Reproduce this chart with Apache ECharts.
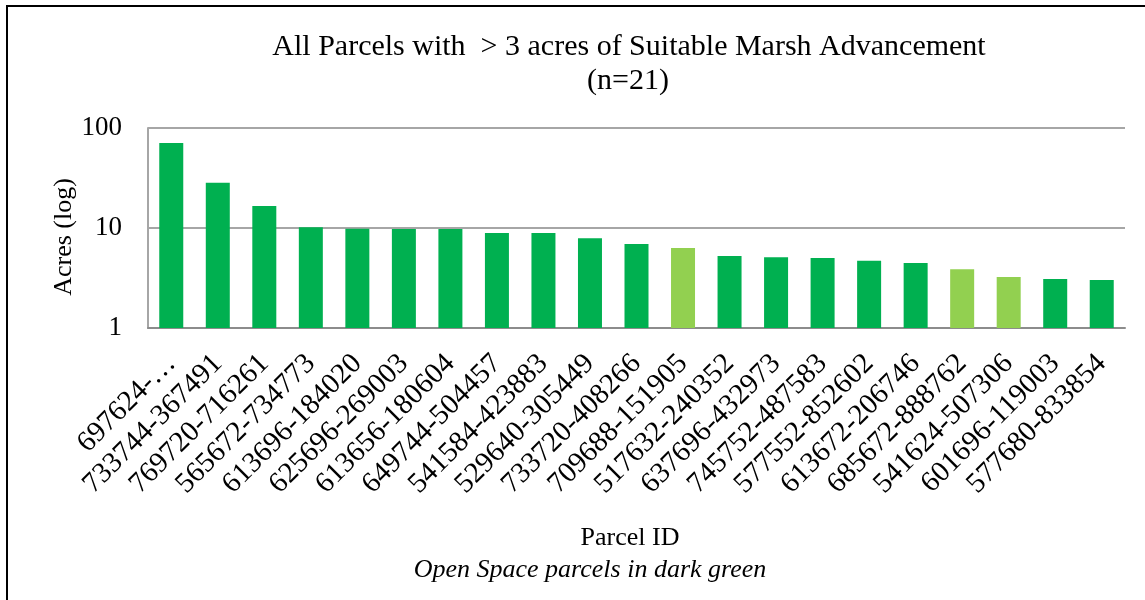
<!DOCTYPE html>
<html>
<head>
    <meta http-equiv="Content-Type" content="text/html; charset=UTF-8">
    <title>All Parcels with > 3 acres of Suitable Marsh Advancement</title>
    <script type="text/javascript" src="https://cdn.jsdelivr.net/npm/echarts@6/dist/echarts.min.js"></script>
    <style>
        html, body { margin: 0; padding: 0; background: #fff; }
    </style>
</head>
<body>
    <div id="main" style="width: 1145px;height:600px;"></div>

    <script type="text/javascript">
        // parcel ids (x axis), in the order shown
        var parcels = ['697624-…', '733744-367491', '769720-716261', '565672-734773', '613696-184020',
            '625696-269003', '613656-180604', '649744-504457', '541584-423883', '529640-305449',
            '733720-408266', '709688-151905', '517632-240352', '637696-432973', '745752-487583',
            '577552-852602', '613672-206746', '685672-888762', '541624-507306', '601696-119003',
            '577680-833854'];
        // acres of suitable marsh advancement
        var acres = [70.8, 28.4, 16.6, 10.2, 9.85, 9.8, 9.8, 8.9, 8.9, 7.9,
            6.9, 6.3, 5.25, 5.1, 5.0, 4.7, 4.47, 3.86, 3.24, 3.09, 3.02];
        // true = open space parcel (dark green)
        var openSpace = [true, true, true, true, true, true, true, true, true, true,
            true, false, true, true, true, true, true, false, false, true, true];
        var yTicks = [1, 10, 100];

        var darkGreen = '#00B050';
        var lightGreen = '#92D050';
        var serif = '"Liberation Serif", "DejaVu Serif", serif';

        var barData = [];
        for (var i = 0; i < acres.length; i++) {
            barData.push({
                value: acres[i],
                itemStyle: { color: openSpace[i] ? darkGreen : lightGreen }
            });
        }

        var myChart = echarts.init(document.getElementById('main'));
        myChart.setOption({
            animation: false,
            grid: { left: 148, right: 20, top: 128, bottom: 272, containLabel: false },
            xAxis: {
                type: 'category',
                data: parcels,
                axisTick: { show: false },
                axisLine: { lineStyle: { color: '#8c8c8c', width: 2 } },
                axisLabel: {
                    interval: 0,
                    rotate: 45,
                    margin: 31,
                    color: '#000',
                    fontFamily: serif,
                    fontSize: 29
                }
            },
            yAxis: {
                type: 'log',
                logBase: 10,
                min: yTicks[0],
                max: yTicks[yTicks.length - 1],
                axisLine: { show: true, lineStyle: { color: '#a6a6a6', width: 2 } },
                axisTick: { show: false },
                splitLine: { lineStyle: { color: '#a6a6a6', width: 2 } },
                axisLabel: {
                    margin: 26,
                    color: '#000',
                    fontFamily: serif,
                    fontSize: 27
                }
            },
            series: [{
                type: 'bar',
                data: barData,
                barWidth: 24
            }],
            graphic: [
                { type: 'line', shape: { x1: 7, y1: 6, x2: 7, y2: 600 }, style: { stroke: '#000', lineWidth: 2 } },
                { type: 'line', shape: { x1: 6, y1: 6, x2: 1145, y2: 6 }, style: { stroke: '#000', lineWidth: 2 } },
                { type: 'text', x: 629, y: 47, style: { text: 'All Parcels with  > 3 acres of Suitable Marsh Advancement',
                    fill: '#000', font: '30px ' + serif, textAlign: 'center', textVerticalAlign: 'middle' } },
                { type: 'text', x: 628, y: 81, style: { text: '(n=21)',
                    fill: '#000', font: '30px ' + serif, textAlign: 'center', textVerticalAlign: 'middle' } },
                { type: 'text', x: 64, y: 237, rotation: Math.PI / 2, style: { text: 'Acres (log)',
                    fill: '#000', font: '26px ' + serif, textAlign: 'center', textVerticalAlign: 'middle' } },
                { type: 'text', x: 630, y: 538, style: { text: 'Parcel ID',
                    fill: '#000', font: '26px ' + serif, textAlign: 'center', textVerticalAlign: 'middle' } },
                { type: 'text', x: 590, y: 570, style: { text: 'Open Space parcels in dark green',
                    fill: '#000', font: 'italic 26px ' + serif, textAlign: 'center', textVerticalAlign: 'middle' } }
            ]
        });
    </script>
</body>
</html>
